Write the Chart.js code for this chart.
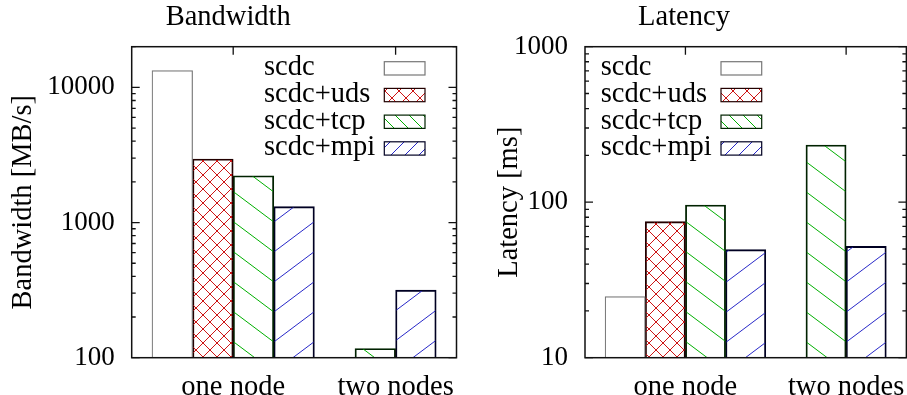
<!DOCTYPE html>
<html>
<head>
<meta charset="utf-8">
<script src="https://cdn.jsdelivr.net/npm/chart.js@4.4.1/dist/chart.umd.min.js"></script>
<style>
  html, body { margin: 0; padding: 0; background: #fff; overflow: hidden; }
  #wrap { position: relative; width: 907px; height: 395px; overflow: hidden; }
  canvas { position: absolute; top: 0; }
  #bandwidth { left: 0; }
  #latency { left: 460px; }
</style>
</head>
<body>
<div id="wrap">
  <canvas id="bandwidth" width="460" height="395"></canvas>
  <canvas id="latency" width="449" height="395"></canvas>
</div>
<script>
const categories = ['one node', 'two nodes'];
const seriesNames = ['scdc', 'scdc+uds', 'scdc+tcp', 'scdc+mpi'];

// Bandwidth [MB/s] per category, null = no bar
const bwScdc = [13300, null];
const bwUds = [2950, null];
const bwTcp = [2220, 117];
const bwMpi = [1310, 316];
const bwTicks = [100, 1000, 10000];

// Latency [ms]
const latScdc = [24.7, null];
const latUds = [75, null];
const latTcp = [96, 233];
const latMpi = [49.5, 52];
const latTicks = [10, 100, 1000];

// layout: x axis runs 0..8 in bar slots, first bar of each group sits at groupStart
const groupStart = [1, 4];
const groupCenter = [2.5, 6.5];

const family = '"Liberation Serif", "DejaVu Serif", serif';
const wordFont = { family: family, size: 28.5 };
const numFont = { family: family, size: 27 };

Chart.defaults.font.family = family;
Chart.defaults.color = '#000';

function makePattern(w, h, color, lines) {
    const c = document.createElement('canvas');
    c.width = w;
    c.height = h;
    const g = c.getContext('2d');
    g.strokeStyle = color;
    g.lineWidth = 1;
    g.beginPath();
    lines.forEach(l => { g.moveTo(l[0], l[1]); g.lineTo(l[2], l[3]); });
    g.stroke();
    return g.createPattern(c, 'repeat');
}

// diagonal hatch, 40px x-period, 30px y-period, passing through (x0, y0)
function hatch(color, dir, x0, y0) {
    const k = 0.75 * dir;
    const c = (((y0 - k * x0) % 30) + 30) % 30;
    const lines = [];
    for (let n = -3; n <= 2; n++) {
        lines.push([-4, -4 * k + c + 30 * n, 44, 44 * k + c + 30 * n]);
    }
    return makePattern(40, 30, color, lines);
}

const red = 'rgb(205, 20, 20)';
const green = 'rgb(0, 175, 0)';
const blue = 'rgb(40, 40, 200)';

const crossRed = makePattern(14, 14, red, [[-1, -1, 15, 15], [15, -1, -1, 15]]);
const keyGreen = makePattern(14, 14, green, [[-1, -1, 15, 15], [-1, -15, 15, 1], [-1, 13, 15, 29]]);
const keyBlue = makePattern(14, 14, blue, [[-1, 15, 15, -1], [-1, 29, 15, 13], [-1, 1, 15, -15]]);

const keyFills = ['#fff', crossRed, keyGreen, keyBlue];
const barBorders = ['#777', '#200', '#020', '#002'];

function slots(values, s) {
    const pts = [];
    values.forEach((v, g) => {
        if (v !== null) pts.push({ x: groupStart[g] + s, y: v });
    });
    return pts;
}

// gnuplot-like frame: inward ticks on all sides, mirrored, and the key
const gnuplotFrame = {
    id: 'gnuplotFrame',
    afterDatasetsDraw(chart, args, opts) {
        const { ctx, chartArea: a, scales: { x, y } } = chart;
        ctx.save();
        ctx.strokeStyle = '#111';
        ctx.lineWidth = 1.3;
        ctx.beginPath();
        y.ticks.forEach(t => {
            const e = Math.floor(Math.log10(t.value) + 1e-9);
            const m = t.value / Math.pow(10, e);
            if (Math.abs(m - Math.round(m)) > 1e-6) return;
            const len = Math.round(m) === 1 ? 8 : 4;
            const py = y.getPixelForValue(t.value);
            ctx.moveTo(a.left, py); ctx.lineTo(a.left + len, py);
            ctx.moveTo(a.right, py); ctx.lineTo(a.right - len, py);
        });
        x.ticks.forEach(t => {
            const px = x.getPixelForValue(t.value);
            ctx.moveTo(px, a.top); ctx.lineTo(px, a.top + 8);
            ctx.moveTo(px, a.bottom); ctx.lineTo(px, a.bottom - 8);
        });
        ctx.stroke();
        ctx.lineWidth = 1.5;
        ctx.strokeRect(a.left, a.top, a.right - a.left, a.bottom - a.top);

        ctx.font = wordFont.size + 'px ' + family;
        ctx.textAlign = 'left';
        ctx.textBaseline = 'alphabetic';
        chart.data.datasets.forEach((ds, i) => {
            const top = a.top + 15 + i * 26.7;
            ctx.fillStyle = '#000';
            ctx.fillText(ds.label, a.left + opts.textX, top + 13.5);
            const bx = a.left + opts.textX + 120.3;
            ctx.fillStyle = keyFills[i];
            ctx.fillRect(bx, top, 40.7, 13.3);
            ctx.lineWidth = 1.2;
            ctx.strokeStyle = barBorders[i];
            ctx.strokeRect(bx, top, 40.7, 13.3);
        });
        ctx.restore();
    }
};

function histogram(id, title, yTitle, series, yMin, yMax, yTicks, axisWidth, padRight, titlePad, keyX) {
    const canvas = document.getElementById(id);
    // line pattern phase: tips meet at the tcp/mpi edge of the first group
    const slot = (canvas.width - padRight - axisWidth) / 8;
    const tipX = axisWidth + 3.5 * slot;
    const tipY = 46.7 + 175.3;
    const barFills = ['#fff', crossRed, hatch(green, 1, tipX, tipY), hatch(blue, -1, tipX, tipY)];

    new Chart(canvas.getContext('2d'), {
        type: 'bar',
        data: {
            datasets: series.map((values, s) => ({
                label: seriesNames[s],
                data: slots(values, s),
                backgroundColor: barFills[s],
                borderColor: barBorders[s],
                borderWidth: 1.2,
                grouped: false,
                categoryPercentage: 1,
                barPercentage: 1,
            }))
        },
        options: {
            responsive: false,
            animation: false,
            events: [],
            layout: { padding: { left: 0, right: padRight, top: 0, bottom: 0 } },
            scales: {
                x: {
                    type: 'linear',
                    min: 0,
                    max: 8,
                    offset: false,
                    grid: { display: false },
                    border: { display: false },
                    afterBuildTicks: scale => {
                        scale.ticks = groupCenter.map(v => ({ value: v }));
                    },
                    afterFit: scale => { scale.height = 37.3; },
                    ticks: {
                        callback: (v, i) => categories[i],
                        autoSkip: false,
                        maxRotation: 0,
                        padding: 4.5,
                        font: wordFont,
                        color: '#000',
                    }
                },
                y: {
                    type: 'logarithmic',
                    min: yMin,
                    max: yMax,
                    grid: { display: false },
                    border: { display: false },
                    afterFit: scale => { scale.width = axisWidth; },
                    ticks: {
                        callback: v => yTicks.includes(v) ? v : '',
                        autoSkip: false,
                        padding: 9,
                        font: numFont,
                        color: '#000',
                    },
                    title: {
                        display: true,
                        text: yTitle,
                        font: wordFont,
                        color: '#000',
                        padding: { top: titlePad, bottom: 0 },
                    }
                }
            },
            plugins: {
                legend: { display: false },
                tooltip: { enabled: false },
                title: {
                    display: true,
                    text: title,
                    font: { family: family, size: 28.5, weight: 'normal' },
                    color: '#000',
                    padding: { top: 0.6, bottom: 11.9 },
                },
                gnuplotFrame: { textX: keyX },
            }
        },
        plugins: [gnuplotFrame]
    });
}

histogram('bandwidth', 'Bandwidth', 'Bandwidth [MB/s]',
    [bwScdc, bwUds, bwTcp, bwMpi], 100, 20000, bwTicks, 131.7, 3.5, 6.3, 132.3);

histogram('latency', 'Latency', 'Latency [ms]',
    [latScdc, latUds, latTcp, latMpi], 10, 1000, latTicks, 125, 1, 32.3, 15.7);
</script>
</body>
</html>
